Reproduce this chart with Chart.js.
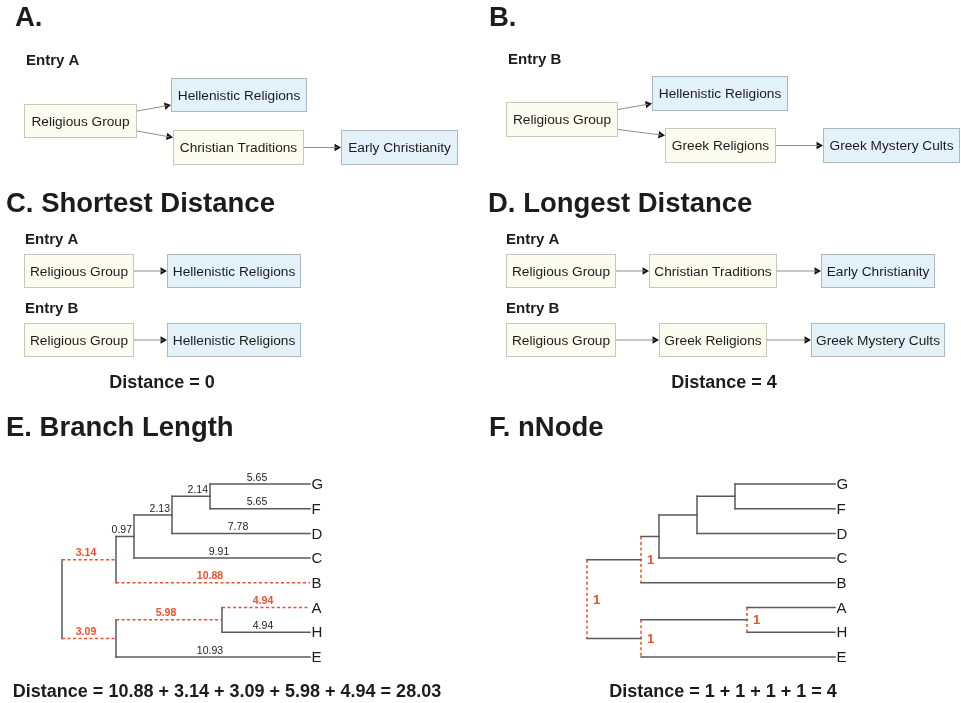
<!DOCTYPE html>
<html>
<head>
<meta charset="utf-8">
<script src="https://cdn.jsdelivr.net/npm/chart.js@4.4.1/dist/chart.umd.min.js"></script>
<style>
  html, body { margin: 0; padding: 0; background: #fff; }
  #wrap { width: 961px; height: 703px; }
</style>
</head>
<body>
<div id="wrap"><canvas id="c" width="961" height="703"></canvas></div>
<script>
// ---------- data ----------
const entryA = ['Religious Group', 'Hellenistic Religions', 'Christian Traditions', 'Early Christianity'];
const entryB = ['Religious Group', 'Hellenistic Religions', 'Greek Religions', 'Greek Mystery Cults'];
const shortestA = ['Religious Group', 'Hellenistic Religions'];
const shortestB = ['Religious Group', 'Hellenistic Religions'];
const longestA = ['Religious Group', 'Christian Traditions', 'Early Christianity'];
const longestB = ['Religious Group', 'Greek Religions', 'Greek Mystery Cults'];
const terminalTerms = ['Hellenistic Religions', 'Early Christianity', 'Greek Mystery Cults'];
const shortestDistance = 0;
const longestDistance = 4;

const leaves = ['G', 'F', 'D', 'C', 'B', 'A', 'H', 'E'];
const branchFrom   = ['n5', 'n5', 'n4', 'n4', 'n3', 'n3', 'n2', 'n2', 'root', 'n7', 'n7', 'n6', 'n6', 'root'];
const branchTo     = ['G', 'F', 'n5', 'D', 'n4', 'C', 'n3', 'B', 'n2', 'A', 'H', 'n7', 'E', 'n6'];
const branchLength = [5.65, 5.65, 2.14, 7.78, 2.13, 9.91, 0.97, 10.88, 3.14, 4.94, 4.94, 5.98, 10.93, 3.09];
const pathBranches = ['B', 'n2', 'n6', 'n7', 'A'];   // B -> ... -> A
const pathNodes = ['n2', 'root', 'n6', 'n7'];

// ---------- layout ----------
const FONT = '"Liberation Sans", Arial, Helvetica, sans-serif';
const INK = '#1c1c1c';
const GRAY = '#5a5a5a';
const RED = '#e8522e';

const boxesA = [[24, 104, 113, 34], [171, 78, 136, 34], [173, 130, 131, 35], [341, 130, 117, 35]];
const boxesB = [[506, 102, 112, 35], [652, 76, 136, 35], [665, 128, 111, 35], [823, 128, 137, 35]];
const treeEdges = [[0, 1], [0, 2], [2, 3]];
const boxesCA = [[24, 254, 110, 34], [167, 254, 134, 34]];
const boxesCB = [[24, 323, 110, 34], [167, 323, 134, 34]];
const boxesDA = [[506, 254, 110, 34], [649, 254, 128, 34], [821, 254, 114, 34]];
const boxesDB = [[506, 323, 110, 34], [659, 323, 108, 34], [811, 323, 134, 34]];

const TREE = { top: 484, step: 24.7, leafX: 248,
  nodeX: { root: 0, n2: 54, n3: 72, n4: 110, n5: 148, n6: 54, n7: 160 } };
const internalOrder = ['n5', 'n4', 'n3', 'n2', 'n7', 'n6', 'root'];

// ---------- build marks ----------
const datasets = [];
const boxes = [];   // {x,y,w,h,label}
const texts = [];   // {t,x,y,font,color,align,base}

function seg(p1, p2, color, width, dash) {
  datasets.push({
    data: [p1, p2], showLine: true, borderColor: color, borderWidth: width,
    borderDash: dash || [], borderCapStyle: dash ? 'butt' : 'square',
    pointRadius: 0, fill: false
  });
}

function arrow(p1, p2) {
  const ang = Math.atan2(p2.y - p1.y, p2.x - p1.x);
  const r = 4.3;
  const c = { x: p2.x - Math.cos(ang) * r, y: p2.y - Math.sin(ang) * r };
  seg(p1, c, '#8f8f8f', 1);
  datasets.push({
    data: [c], showLine: false, pointStyle: 'triangle', pointRadius: r,
    rotation: ang * 180 / Math.PI + 90, pointBackgroundColor: '#111',
    pointBorderWidth: 0, pointBorderColor: '#111'
  });
}

function addBoxes(labels, rects) {
  labels.forEach((l, i) => {
    const [x, y, w, h] = rects[i];
    boxes.push({ x, y, w, h, label: l, blue: terminalTerms.includes(l) });
  });
}

function branchingDiagram(labels, rects) {
  addBoxes(labels, rects);
  const kidsOf0 = treeEdges.filter(e => e[0] === 0).length;
  let k = 0;
  treeEdges.forEach(([s, t]) => {
    const [sx, sy, sw, sh] = rects[s];
    const [tx, ty, tw, th] = rects[t];
    let dy1 = 0, dy2 = 0;
    if (s === 0 && kidsOf0 > 1) {
      dy1 = k === 0 ? -10 : 10;
      dy2 = k === 0 ? 10 : -10;
      k++;
    }
    arrow({ x: sx + sw, y: sy + sh / 2 + dy1 }, { x: tx, y: ty + th / 2 + dy2 });
  });
}

function chainDiagram(labels, rects) {
  addBoxes(labels, rects);
  for (let i = 0; i < rects.length - 1; i++) {
    const [sx, sy, sw, sh] = rects[i];
    const [tx, ty, tw, th] = rects[i + 1];
    arrow({ x: sx + sw, y: sy + sh / 2 }, { x: tx, y: ty + th / 2 });
  }
}

branchingDiagram(entryA, boxesA);
branchingDiagram(entryB, boxesB);
chainDiagram(shortestA, boxesCA);
chainDiagram(shortestB, boxesCB);
chainDiagram(longestA, boxesDA);
chainDiagram(longestB, boxesDB);

function treePositions(ox) {
  const pos = {};
  leaves.forEach((l, i) => { pos[l] = { x: ox + TREE.leafX, y: TREE.top + i * TREE.step }; });
  internalOrder.forEach(n => {
    const ys = branchTo.filter((t, i) => branchFrom[i] === n).map(t => pos[t].y);
    pos[n] = { x: ox + TREE.nodeX[n], y: (Math.min(...ys) + Math.max(...ys)) / 2, lo: Math.min(...ys), hi: Math.max(...ys) };
  });
  return pos;
}

function drawTree(ox, mode) {
  const pos = treePositions(ox);
  const DASH = [3, 2.5];
  // horizontals
  branchTo.forEach((t, i) => {
    const p0 = { x: pos[branchFrom[i]].x, y: pos[t].y };
    const p1 = { x: pos[t].x, y: pos[t].y };
    const red = mode === 'length' && pathBranches.includes(t);
    seg(p0, p1, red ? RED : GRAY, 1.5, red ? DASH : null);
    if (mode === 'length') {
      const len = p1.x - p0.x;
      const short = len < 45;
      texts.push({
        t: branchLength[i].toFixed(2),
        x: short ? p1.x - 2 : (p0.x + p1.x) / 2 - 3, y: p0.y - 1,
        font: (red ? 'bold ' : '') + '10.5px ' + FONT, color: red ? RED : INK,
        align: short ? 'right' : 'center', base: 'bottom'
      });
    }
  });
  // verticals
  internalOrder.forEach(n => {
    const red = mode === 'nnode' && pathNodes.includes(n);
    seg({ x: pos[n].x, y: pos[n].lo }, { x: pos[n].x, y: pos[n].hi }, red ? RED : GRAY, 1.5, red ? DASH : null);
    if (red) {
      texts.push({ t: '1', x: pos[n].x + 6, y: pos[n].y + 1, font: 'bold 13px ' + FONT, color: RED, align: 'left', base: 'middle' });
    }
  });
  leaves.forEach(l => {
    texts.push({ t: l, x: pos[l].x + 1.5, y: pos[l].y + 1, font: '15px ' + FONT, color: INK, align: 'left', base: 'middle' });
  });
}

drawTree(62, 'length');
drawTree(587, 'nnode');

// headings and captions
const TITLE = 'bold 27.5px ' + FONT;
const ENTRY = 'bold 15px ' + FONT;
const CAPTION = 'bold 18px ' + FONT;
[['A.', 15, 26], ['B.', 489, 26], ['C. Shortest Distance', 6, 212], ['D. Longest Distance', 488, 212],
 ['E. Branch Length', 6, 436], ['F. nNode', 489, 436]].forEach(([t, x, y]) =>
  texts.push({ t, x, y, font: TITLE, color: INK, align: 'left', base: 'alphabetic' }));
[['Entry A', 26, 65], ['Entry B', 508, 64], ['Entry A', 25, 244], ['Entry B', 25, 313],
 ['Entry A', 506, 244], ['Entry B', 506, 313]].forEach(([t, x, y]) =>
  texts.push({ t, x, y, font: ENTRY, color: INK, align: 'left', base: 'alphabetic' }));

const pathLens = pathBranches.map(b => branchLength[branchTo.indexOf(b)]);
const total = pathLens.reduce((a, b) => a + b, 0);
const captions = [
  ['Distance = ' + shortestDistance, 162, 388],
  ['Distance = ' + longestDistance, 724, 388],
  ['Distance = ' + pathLens.map(v => v.toFixed(2)).join(' + ') + ' = ' + total.toFixed(2), 227, 697],
  ['Distance = ' + pathNodes.map(() => '1').join(' + ') + ' = ' + pathNodes.length, 723, 697]
];
captions.forEach(([t, x, y]) => texts.push({ t, x, y, font: CAPTION, color: INK, align: 'center', base: 'alphabetic' }));

// ---------- plugins ----------
const diagramPlugin = {
  id: 'diagram',
  beforeDatasetsDraw(chart) {
    const { ctx, scales: { x, y } } = chart;
    ctx.save();
    boxes.forEach(b => {
      const px = x.getPixelForValue(b.x), py = y.getPixelForValue(b.y);
      const pw = x.getPixelForValue(b.x + b.w) - px, ph = y.getPixelForValue(b.y + b.h) - py;
      ctx.fillStyle = b.blue ? '#e3f1f9' : '#fcfbef';
      ctx.strokeStyle = b.blue ? '#a9b9c3' : '#c9c7b8';
      ctx.lineWidth = 1;
      ctx.fillRect(px, py, pw, ph);
      ctx.strokeRect(px + 0.5, py + 0.5, pw - 1, ph - 1);
      ctx.fillStyle = INK;
      ctx.font = '13.7px ' + FONT;
      ctx.textAlign = 'center';
      ctx.textBaseline = 'middle';
      ctx.fillText(b.label, px + pw / 2, py + ph / 2 + 1);
    });
    ctx.restore();
  },
  afterDatasetsDraw(chart) {
    const { ctx, scales: { x, y } } = chart;
    ctx.save();
    texts.forEach(t => {
      ctx.font = t.font;
      ctx.fillStyle = t.color;
      ctx.textAlign = t.align;
      ctx.textBaseline = t.base;
      ctx.fillText(t.t, x.getPixelForValue(t.x), y.getPixelForValue(t.y));
    });
    ctx.restore();
  }
};

new Chart(document.getElementById('c'), {
  type: 'scatter',
  data: { datasets },
  options: {
    responsive: false,
    animation: false,
    layout: { padding: 0, autoPadding: false },
    scales: {
      x: { type: 'linear', min: 0, max: 961, display: false },
      y: { type: 'linear', min: 0, max: 703, reverse: true, display: false }
    },
    plugins: { legend: { display: false }, tooltip: { enabled: false } },
    elements: { line: { tension: 0 } }
  },
  plugins: [diagramPlugin]
});
</script>
</body>
</html>
